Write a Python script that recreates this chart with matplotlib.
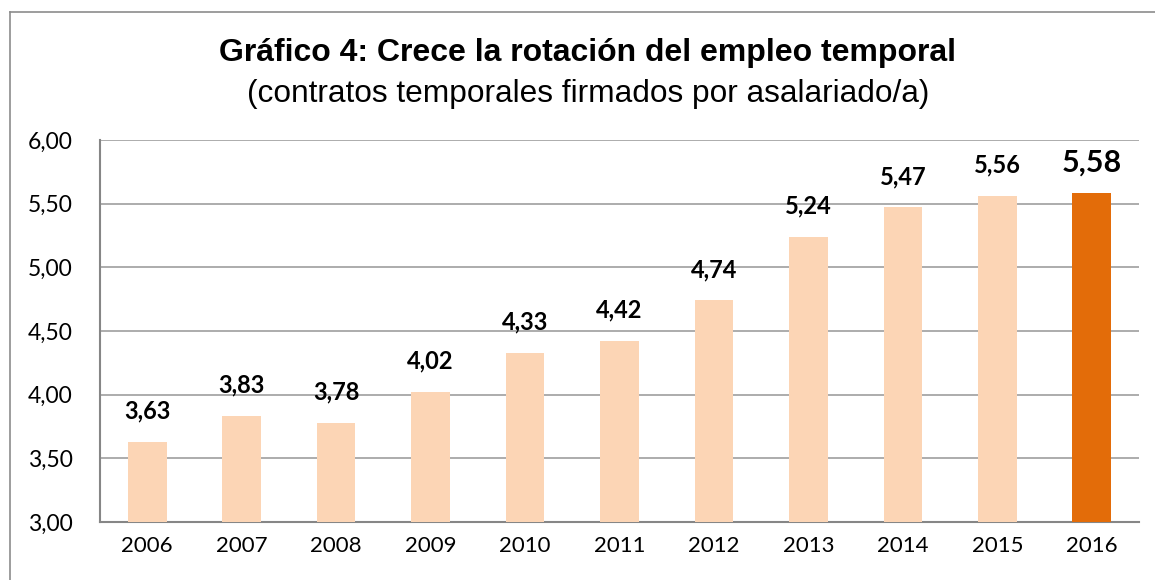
import matplotlib.pyplot as plt
from matplotlib.lines import Line2D
from matplotlib.ticker import FixedLocator, FuncFormatter

years = ['2006', '2007', '2008', '2009', '2010', '2011', '2012', '2013', '2014', '2015', '2016']
values = [3.63, 3.83, 3.78, 4.02, 4.33, 4.42, 4.74, 5.24, 5.47, 5.56, 5.58]
yticks = [3.0, 3.5, 4.0, 4.5, 5.0, 5.5, 6.0]

light = '#FCD5B5'
dark = '#E36C09'
W, H = 1155, 580

fig = plt.figure(figsize=(W / 100, H / 100), dpi=100)
ax = fig.add_axes([100 / W, 1 - 522 / H, (1139 - 100) / W, (522 - 140) / H])

colors = [light] * (len(years) - 1) + [dark]
x = range(len(years))
ax.bar(x, values, width=0.41, color=colors, zorder=3)
ax.set_xlim(-0.5, len(years) - 0.5)
ax.set_ylim(3.0, 6.0)

ax.yaxis.set_major_locator(FixedLocator(yticks))
ax.yaxis.set_major_formatter(FuncFormatter(lambda v, p: f'{v:.2f}'.replace('.', ',')))
ax.set_xticks(list(x))
ax.set_xticklabels(years)
ax.grid(axis='y', color='#A6A6A6', lw=1.3, zorder=0)
for s in ['top', 'right']:
    ax.spines[s].set_visible(False)
for s in ['left', 'bottom']:
    ax.spines[s].set_color('#868686')
    ax.spines[s].set_linewidth(1.5)
ax.tick_params(length=0, labelsize=16, pad=10)
ax.tick_params(axis='y', labelsize=16.5, pad=19.5)
for lab in ax.get_xticklabels() + ax.get_yticklabels():
    lab.set_fontfamily('Lato')

for i, v in enumerate(values):
    last = i == len(values) - 1
    ax.annotate(f'{v:.2f}'.replace('.', ','), (i, v), xytext=(0, 12 if last else 14),
                textcoords='offset points', ha='center', va='bottom',
                fontsize=22 if last else 17, fontweight='bold', family='Lato')

fig.text(588 / W, 1 - 53 / H, 'Gráfico 4: Crece la rotación del empleo temporal',
         ha='center', va='center', fontsize=23, fontweight='bold', family='Liberation Sans')
fig.text(588 / W, 1 - 94 / H, '(contratos temporales firmados por asalariado/a)',
         ha='center', va='center', fontsize=22.8, family='Liberation Sans')

# outer frame (left and top edges visible)
fig.add_artist(Line2D([10 / W, 10 / W], [0, 1 - 12 / H], transform=fig.transFigure, color='#8C8C8C', lw=1.2))
fig.add_artist(Line2D([10 / W, 1], [1 - 12 / H, 1 - 12 / H], transform=fig.transFigure, color='#8C8C8C', lw=1.2))

fig.savefig('out.png', dpi=100)
